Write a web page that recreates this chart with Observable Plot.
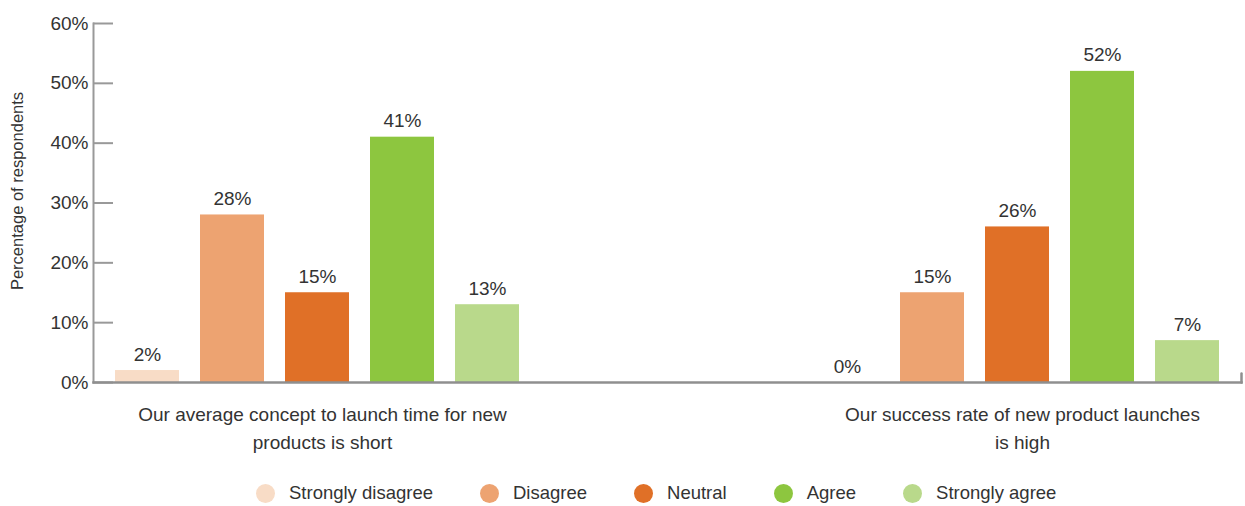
<!DOCTYPE html>
<html><head><meta charset="utf-8">
<script src="https://cdn.jsdelivr.net/npm/d3@7"></script>
<script src="https://cdn.jsdelivr.net/npm/@observablehq/plot@0.6"></script>
<style>
body{margin:0;background:#fff;font-family:"Liberation Sans",Arial,sans-serif;color:#333}
#legend{display:flex;align-items:center;margin-left:256px;padding-top:17px;font-size:18.5px;line-height:22px}
.item{display:flex;align-items:center;margin-right:47px}
.sw{width:19px;height:19px;border-radius:50%;margin-right:14px}
</style></head><body><div id="chart"></div><div id="legend"></div>
<script>
const categories = ["Strongly disagree", "Disagree", "Neutral", "Agree", "Strongly agree"];
const groups = ["Our average concept to launch time for new\nproducts is short", "Our success rate of new product launches\nis high"];
const shortTimeValues = [2, 28, 15, 41, 13];
const successRateValues = [0, 15, 26, 52, 7];
const colors = ["#F8DCC6", "#EDA371", "#E07027", "#8DC63F", "#B9D98B"];
const yTicks = [0, 10, 20, 30, 40, 50, 60];

const data = [];
categories.forEach((c, i) => {
  data.push({group: groups[0], category: c, value: shortTimeValues[i]});
  data.push({group: groups[1], category: c, value: successRateValues[i]});
});

const endTick = {draw(context, l) { context.moveTo(0, 0); context.lineTo(0, -l); }};

const plot = Plot.plot({
  width: 1245, height: 465,
  marginLeft: 93, marginRight: 4, marginTop: 23, marginBottom: 83,
  style: {fontFamily: "'Liberation Sans', Arial, sans-serif", fontSize: "19px", color: "#333", background: "#fff"},
  fx: {domain: groups, paddingInner: 0.36, paddingOuter: 0, label: null},
  x: {domain: categories, paddingInner: 0.242, paddingOuter: 0.233, axis: null},
  y: {domain: [0, 60], label: null},
  color: {domain: categories, range: colors},
  marks: [
    Plot.barY(data, {fx: "group", x: "category", y: "value", fill: "category"}),
    Plot.text(data, {fx: "group", x: "category", y: "value", text: d => d.value + "%", dy: -16, fill: "#333", fontSize: 19}),
    Plot.axisY({ticks: yTicks, tickSize: -20, tickPadding: 25, tickFormat: d => d + "%", stroke: "#999", strokeWidth: 2, fill: "#333", label: null, fontSize: 19}),
    Plot.axisFx({anchor: "bottom", tickSize: 0, tickPadding: 18, label: null, dx: 5, fontSize: 19, lineHeight: 1.5, fill: "#333"}),
    Plot.frame({anchor: "left", facet: "super", stroke: "#999", strokeWidth: 2}),
    Plot.frame({anchor: "bottom", facet: "super", stroke: "#8f8f8f", strokeWidth: 2.5}),
    Plot.vector([0], {frameAnchor: "bottom-right", length: 9, anchor: "start", shape: endTick, stroke: "#8f8f8f", strokeWidth: 2.5, facet: "super"}),
    Plot.text(["Percentage of respondents"], {frameAnchor: "left", textAnchor: "middle", rotate: -90, dx: -76, dy: -12, fontSize: 16.5, fill: "#333", facet: "super"})
  ]
});
document.getElementById("chart").append(plot);

const legend = document.getElementById("legend");
categories.forEach((c, i) => {
  const item = document.createElement("div");
  item.className = "item";
  const sw = document.createElement("span");
  sw.className = "sw";
  sw.style.background = colors[i];
  const label = document.createElement("span");
  label.textContent = c;
  item.append(sw, label);
  legend.append(item);
});
</script>
</body></html>
